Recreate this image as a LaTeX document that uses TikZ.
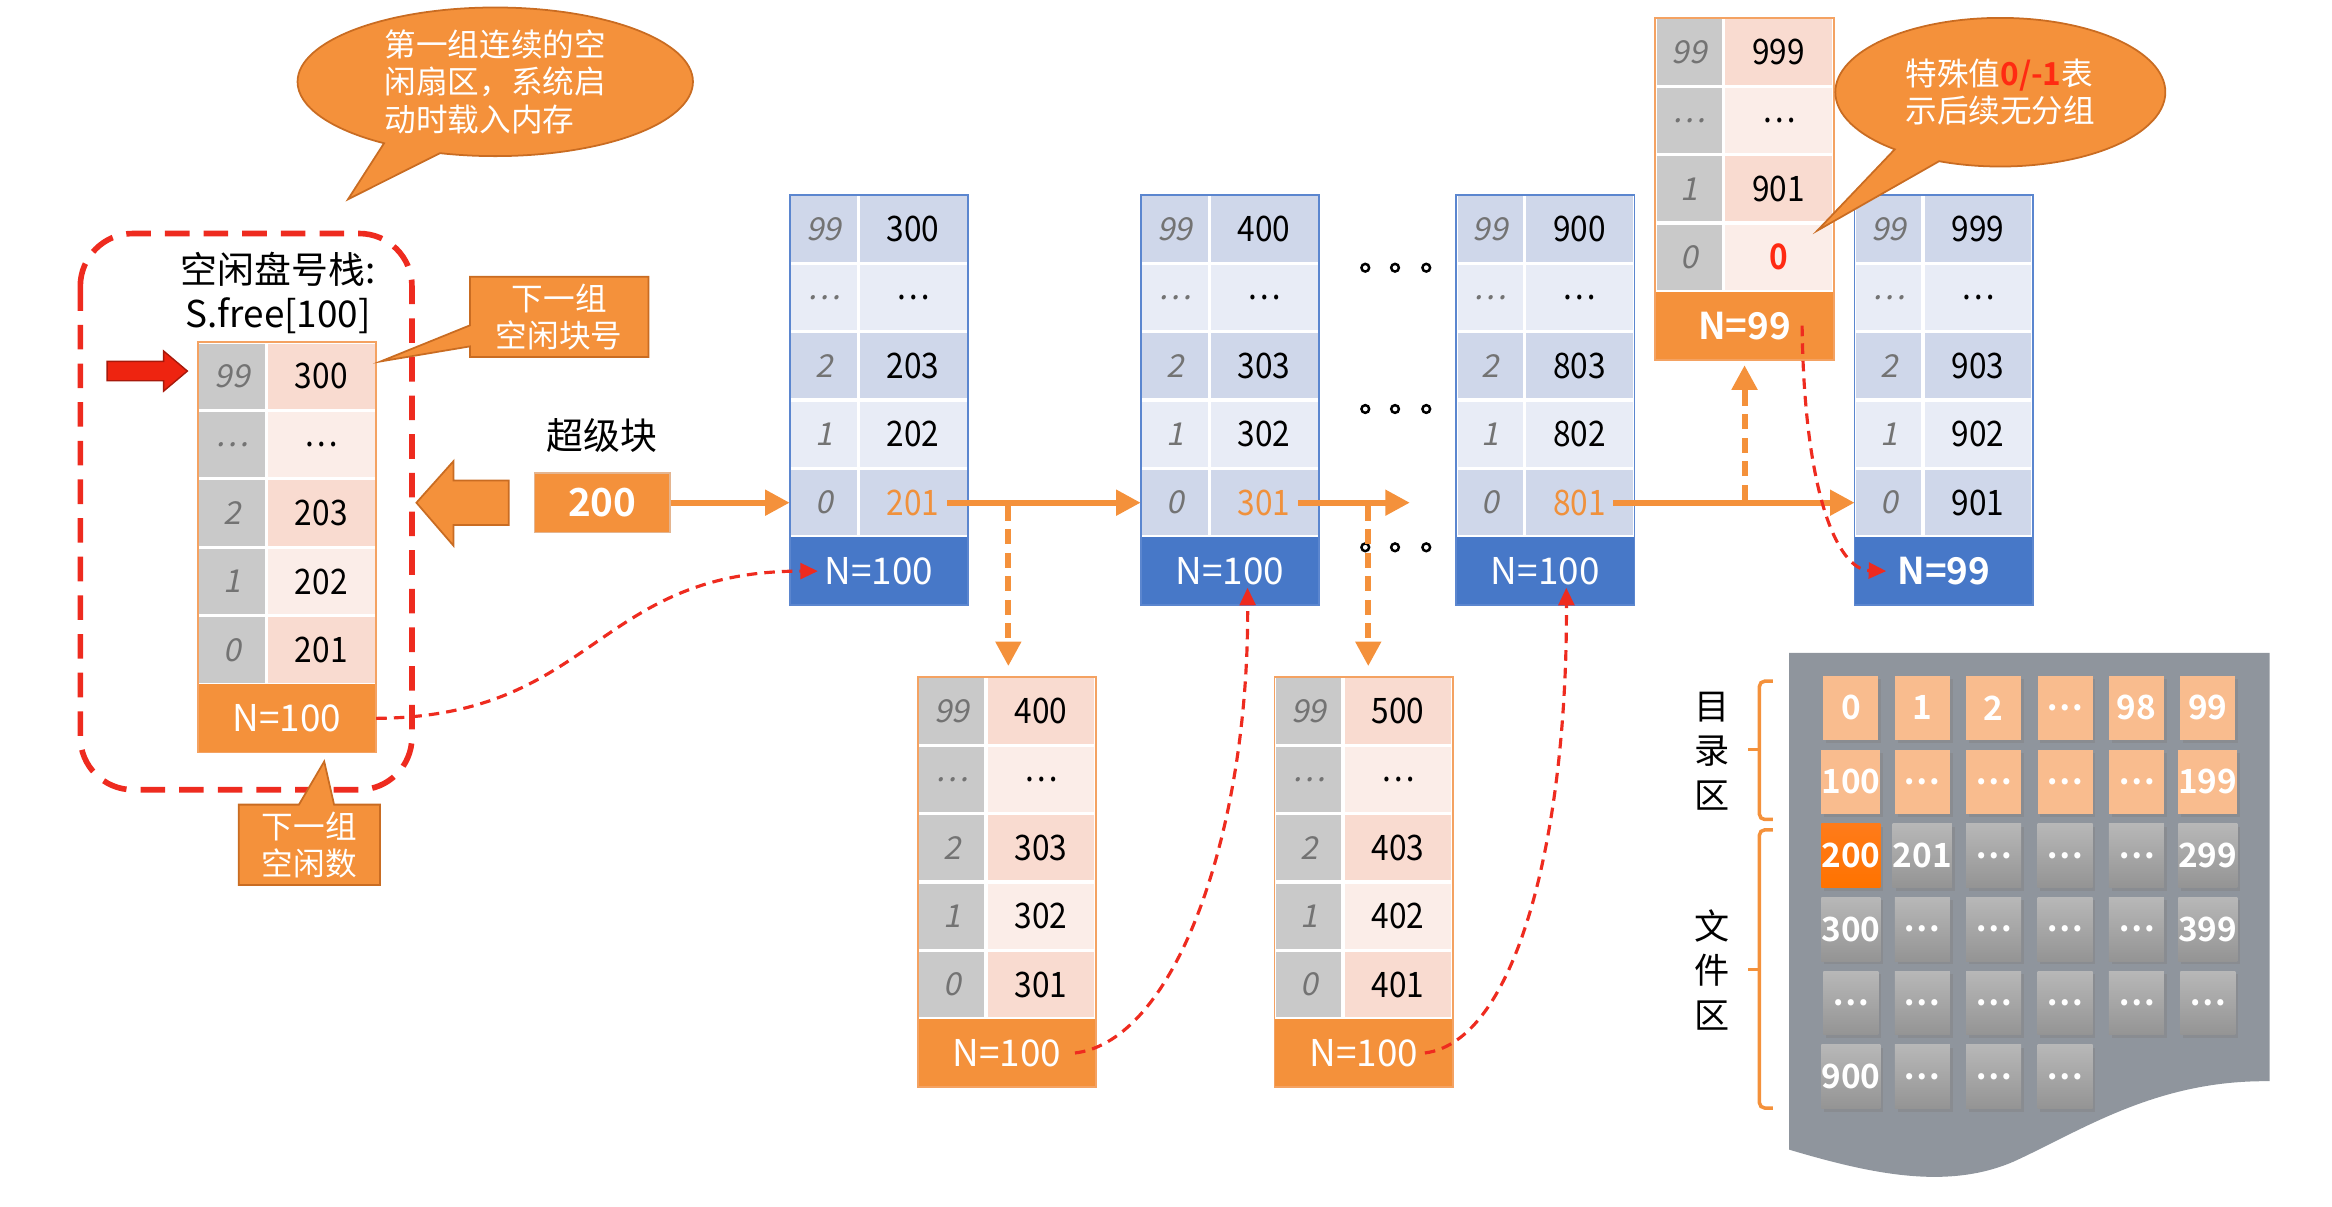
\documentclass[tikz,border=0pt]{standalone}
\usepackage{fontspec}
\setmainfont{Noto Sans CJK SC}[BoldFont={Noto Sans CJK SC Bold}, AutoFakeSlant=0.2]
\newfontfamily\narrowfont{Noto Sans CJK SC}[BoldFont={Noto Sans CJK SC Bold}, FakeStretch=0.9, AutoFakeSlant=0.2]
\usepackage{tikz}
\usetikzlibrary{arrows.meta, positioning, shapes.callouts, shadows}

\definecolor{boxorange}{HTML}{F4913B}
\definecolor{rimorange}{HTML}{C96C22}
\definecolor{hiorange}{HTML}{F0913C}
\definecolor{pkvaldk}{HTML}{F9DBD0}
\definecolor{pkvallt}{HTML}{FBEDE8}
\definecolor{pkidxdk}{HTML}{C9C9C9}
\definecolor{pkidxlt}{HTML}{C9C9C9}
\definecolor{blvaldk}{HTML}{CFD7EA}
\definecolor{blvallt}{HTML}{E8ECF6}
\definecolor{blidxdk}{HTML}{CFD7EA}
\definecolor{blidxlt}{HTML}{E8ECF6}
\definecolor{pkcnt}{HTML}{F4913B}
\definecolor{blcnt}{HTML}{4778C8}
\definecolor{pkrim}{HTML}{F4A262}
\definecolor{blrim}{HTML}{5B86CF}
\definecolor{dashred}{HTML}{EE2B1F}
\definecolor{zerored}{HTML}{FF2A12}
\definecolor{ptrred}{HTML}{EE2410}
\definecolor{diskgray}{HTML}{8F959D}
\definecolor{dirorange}{HTML}{F9BC8E}

% one shown pixel
\newcommand{\pxl}[1]{#1*0.4231pt}

\tikzset{
  idx/.style={minimum width=\pxl{46}, minimum height=\pxl{46}, inner sep=0pt, outer sep=0pt,
    draw=white, line width=0.9pt, text=black!55, font=\itshape\fontsize{9}{10}\selectfont},
  val/.style={minimum width=\pxl{74}, minimum height=\pxl{46}, inner sep=0pt, outer sep=0pt,
    draw=white, line width=0.9pt, font=\narrowfont\fontsize{10}{12}\selectfont},
  cnt/.style={minimum width=\pxl{120}, minimum height=\pxl{46}, inner sep=0pt, outer sep=0pt,
    text=white, font=\fontsize{10.5}{12}\selectfont},
  link/.style={draw=boxorange, line width=1.7pt, -{Triangle[length=7pt,width=7pt]}},
  dlink/.style={link, dash pattern=on 4.3pt off 2.4pt},
  redlink/.style={draw=dashred, line width=0.9pt, dash pattern=on 3pt off 2pt,
    -{Triangle[length=5pt,width=4.5pt]}},
  note/.style={rectangle callout, fill=boxorange, draw=rimorange, line width=0.5pt, text=white,
    align=center, inner sep=0pt, font=\fontsize{9}{10.6}\selectfont},
  bubble/.style={ellipse callout, fill=boxorange, draw=rimorange, line width=0.5pt, text=white,
    align=left, inner sep=0pt, callout pointer arc=18, font=\fontsize{9}{10.6}\selectfont},
  title/.style={align=center, font=\fontsize{10.5}{12.3}\selectfont},
  superblk/.style={fill=boxorange, draw=rimorange!50, minimum width=\pxl{91}, minimum height=\pxl{40},
    text=white, font=\bfseries\fontsize{11}{12}\selectfont},
  dcell/.style={minimum width=\pxl{37}, minimum height=\pxl{43}, inner sep=0pt, text=white,
    font=\bfseries\fontsize{9.5}{10}\selectfont,
    drop shadow={shadow xshift=0.8pt, shadow yshift=-0.9pt, opacity=0.4}},
  dz/.style={dcell, fill=dirorange},
  fz/.style={dcell, top color=black!28, bottom color=black!42},
  hot/.style={dcell, top color=orange!85!red!90!white, bottom color=orange!90!red},
  brace/.style={draw=boxorange, line width=1pt, rounded corners=1.5pt},
  zonelbl/.style={align=center, font=\fontsize{10}{12.7}\selectfont},
}

% #1 name, #2 left, #3 top, #4 colour set, #5 index/value rows, #6 count
\newcommand{\blkstack}[6]{%
  \foreach \ix/\vl [count=\rw from 0] in {#5} {
    \ifodd\rw \def\shd{lt}\else\def\shd{dk}\fi
    \edef\icol{#4idx\shd}\edef\vcol{#4val\shd}
    \node[idx, fill=\icol] (#1i\rw) at (#2+23, #3+23+46*\rw) {\ix};
    \node[val, fill=\vcol] (#1v\rw) at (#2+83, #3+23+46*\rw) {\vl};
    \xdef\nrows{\the\numexpr\rw+1\relax}
  }
  \node[cnt, fill=#4cnt] (#1n) at (#2+60, #3+23+46*\nrows) {#6};
  \draw[draw=#4rim, line width=0.5pt] (#1i0.north west) rectangle (#1n.south east);
  \coordinate (#1top) at (#2+60, #3);
}

\begin{document}
\begin{tikzpicture}[x=0.014872cm, y=-0.014872cm]
\useasboundingbox (0,0) rectangle (1568,811);

% disk
\fill[diskgray] (1203,439) -- (1526,439) -- (1526,727)
  .. controls (1450,726) and (1400,760) .. (1354,781)
  .. controls (1310,800) and (1260,790) .. (1203,773) -- cycle;
\foreach \cells [count=\rw from 0] in {{0,1,2,\ldots,98,99}, {100,\ldots,\ldots,\ldots,\ldots,199},
    {200,201,\ldots,\ldots,\ldots,299}, {300,\ldots,\ldots,\ldots,\ldots,399},
    {\ldots,\ldots,\ldots,\ldots,\ldots,\ldots}, {900,\ldots,\ldots,\ldots}} {
  \foreach \c [count=\cl from 0] in \cells {
    \ifnum\rw<2 \def\kind{dz}\else\def\kind{fz}\fi
    \ifnum\rw=2 \ifnum\cl=0 \def\kind{hot}\fi\fi
    \node[\kind] (g\rw\cl) at (1244.5+48*\cl, 476+49.6*\rw) {\c};
  }
}
\draw[brace] (1192,458) -- (1183,458) -- (1183,551) -- (1192,551);
\draw[brace] (1183,504) -- (1175,504);
\draw[brace] (1192,558) -- (1183,558) -- (1183,745) -- (1192,745);
\draw[brace] (1183,652) -- (1175,652);
\node[zonelbl] (dirlbl) at (1151,505) {目\\录\\区};
\node[zonelbl] (filelbl) at (1151,652) {文\\件\\区};

% memory
\draw[dashred, line width=1.6pt, dash pattern=on 7pt off 4pt, rounded corners=15pt]
  (54,157) rectangle (277,531);
\node[title] (stacklbl) at (187,197) {空闲盘号栈:\\S.free[100]};
\blkstack{L}{133}{230}{pk}{99/300, \ldots/\ldots, 2/203, 1/202, 0/201}{N=100}
\filldraw[fill=ptrred, draw=ptrred!70!black, line width=0.4pt]
  (72,243) -- (110,243) -- (110,236) -- (126,249.5) -- (110,263) -- (110,256) -- (72,256) -- cycle;
\node[note, minimum width=\pxl{120}, minimum height=\pxl{54}, callout pointer width=6pt,
  callout absolute pointer={(256,243)}] (nextno) at (376,213) {下一组\\空闲块号};
\node[note, minimum width=\pxl{95}, minimum height=\pxl{54}, callout pointer width=10pt,
  callout absolute pointer={(218,512)}] (nextcnt) at (208,568) {下一组\\空闲数};
\node[bubble, minimum width=\pxl{266}, minimum height=\pxl{100},
  callout absolute pointer={(234,134)}] (memnote) at (333,55) {第一组连续的空\\闲扇区，系统启\\动时载入内存};

% super block
\node[font=\fontsize{10.5}{12}\selectfont] (sblbl) at (405,293) {超级块};
\node[superblk] (sb) at (405,338) {200};
\filldraw[fill=boxorange, draw=rimorange, line width=0.5pt]
  (342,323) -- (305,323) -- (305,310) -- (280,338) -- (305,367) -- (305,353) -- (342,353) -- cycle;

% groups on disk
\blkstack{B1}{531}{131}{bl}{99/300, \ldots/\ldots, 2/203, 1/202, 0/\textcolor{hiorange}{201}}{N=100}
\blkstack{B2}{767}{131}{bl}{99/400, \ldots/\ldots, 2/303, 1/302, 0/\textcolor{hiorange}{301}}{N=100}
\blkstack{B3}{979}{131}{bl}{99/900, \ldots/\ldots, 2/803, 1/802, 0/\textcolor{hiorange}{801}}{N=100}
\blkstack{B4}{1247}{131}{bl}{99/999, \ldots/\ldots, 2/903, 1/902, 0/901}{\bfseries N=99}
\blkstack{O1}{617}{455}{pk}{99/400, \ldots/\ldots, 2/303, 1/302, 0/301}{N=100}
\blkstack{O2}{857}{455}{pk}{99/500, \ldots/\ldots, 2/403, 1/402, 0/401}{N=100}
\blkstack{O3}{1113}{12}{pk}{99/999, \ldots/\ldots, 1/901, 0/\textcolor{zerored}{\bfseries 0}}{\bfseries N=99}

\foreach \yy in {180,275,368}
  \foreach \xx in {918,938,959}
    \draw[line width=0.7pt] (\xx,\yy) circle (1.1pt);

\node[bubble, minimum width=\pxl{222}, minimum height=\pxl{100},
  callout absolute pointer={(1222,155)}] (endnote) at (1345,62)
  {特殊值\textcolor{zerored}{\bfseries 0/-1}表\\示后续无分组};

% links
\coordinate (tap1) at (678,340);
\coordinate (tap2) at (920,340);
\coordinate (tap3) at (1173,336);
\coordinate (gapend) at (948,338);
\draw[link] (sb.east) -- (B1i4.west);
\draw[link] ([xshift=-6pt]B1v4.east) -- (B2i4.west);
\draw[link] ([xshift=-6pt]B2v4.east) -- (gapend);
\draw[link] ([xshift=-6pt]B3v4.east) -- (B4i4.west);
\draw[dlink] (tap1) -- ([yshift=3pt]tap1 |- O1top);
\draw[dlink] (tap2) -- ([yshift=3pt]tap2 |- O2top);
\draw[dlink] (tap3) -- ([yshift=-1.5pt]tap3 |- O3n.south);

\draw[redlink] (Ln.east) .. controls (400,482) and (400,384) .. ([xshift=8pt]B1n.west);
\draw[redlink] ([xshift=-6pt]O1n.east) .. controls (790,700) and (840,560) .. ([xshift=5pt,yshift=5pt]B2n.south);
\draw[redlink] ([xshift=-8pt]O2n.east) .. controls (1020,700) and (1054,560) .. ([xshift=6pt,yshift=5pt]B3n.south);
\draw[redlink] ([xshift=-9pt]O3n.east) .. controls (1213,330) and (1235,383) .. ([xshift=9pt]B4n.west);
\end{tikzpicture}
\end{document}
